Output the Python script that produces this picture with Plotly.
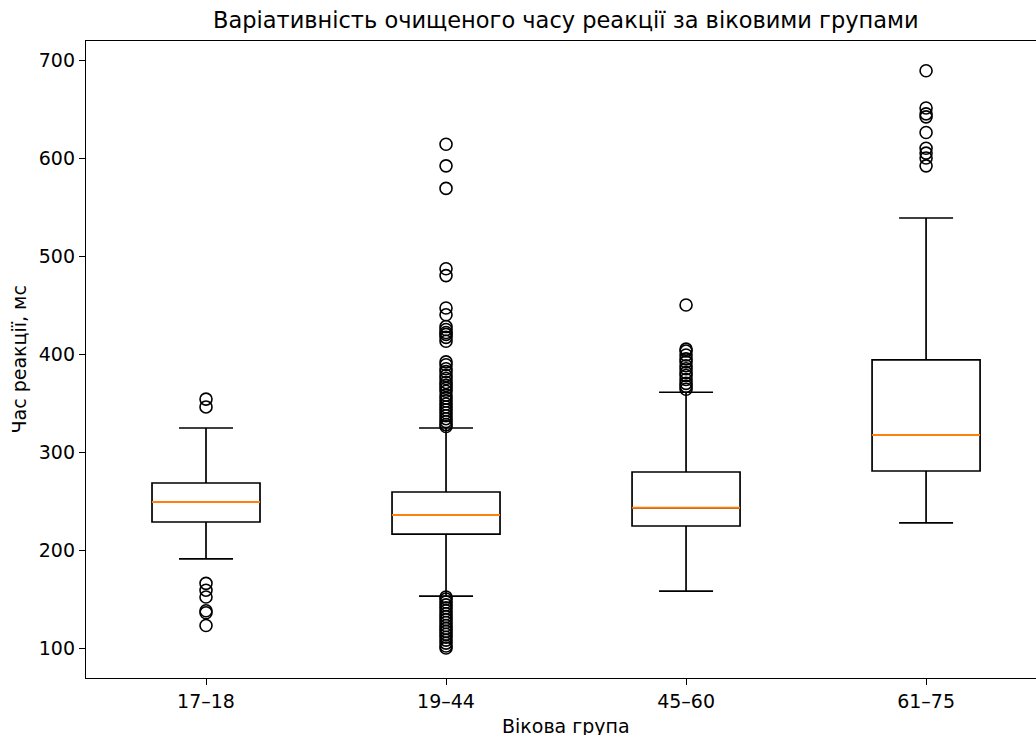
import plotly.graph_objects as go

# Age groups and their reaction-time summary statistics (ms)
groups = ["17–18", "19–44", "45–60", "61–75"]
positions = [1, 2, 3, 4]
q1 = [228.6, 216.3, 224.5, 280.6]
median = [249.0, 235.7, 243.0, 317.3]
q3 = [268.4, 259.2, 279.6, 394.0]
lower_whisker = [191.0, 153.0, 158.0, 227.6]
upper_whisker = [324.5, 324.5, 361.0, 538.8]

# Outliers per group
outliers_17_18 = [354, 346, 166, 159, 152, 138, 136, 123]
outliers_19_44 = [614, 592, 569, 487, 480, 447, 440, 428, 425, 422, 420, 417, 413,
                  392, 389, 385, 382, 378, 375, 371, 368, 365, 362, 358, 355, 352,
                  349, 346, 343, 340, 337, 334, 331, 328, 326,
                  152, 150, 147, 144, 141, 138, 135, 132, 129, 126, 123, 120, 117,
                  114, 111, 108, 105, 102, 100]
outliers_45_60 = [450, 405, 403, 399, 395, 392, 388, 385, 381, 378, 374, 370, 367, 364]
outliers_61_75 = [689, 651, 645, 642, 626, 610, 605, 600, 592]
outliers = [outliers_17_18, outliers_19_44, outliers_45_60, outliers_61_75]

y_ticks = [100, 200, 300, 400, 500, 600, 700]

BOX_WIDTH = 0.45
FONT = "DejaVu Sans"

fig = go.Figure()

fig.add_trace(go.Box(
    x=positions, q1=q1, median=median, q3=q3,
    lowerfence=lower_whisker, upperfence=upper_whisker,
    width=BOX_WIDTH, whiskerwidth=0.5, boxpoints=False,
    line=dict(color="black", width=1.7), fillcolor="white",
    showlegend=False, hoverinfo="skip",
))

# Orange median lines on top of the boxes
for pos, med in zip(positions, median):
    fig.add_trace(go.Scatter(
        x=[pos - BOX_WIDTH / 2, pos + BOX_WIDTH / 2], y=[med, med],
        mode="lines", line=dict(color="#ff7f0e", width=2),
        showlegend=False, hoverinfo="skip",
    ))

# Outlier markers
for pos, pts in zip(positions, outliers):
    fig.add_trace(go.Scatter(
        x=[pos] * len(pts), y=pts, mode="markers",
        marker=dict(symbol="circle-open", size=12, color="black",
                    line=dict(width=1.6, color="black")),
        showlegend=False, hoverinfo="skip",
    ))

fig.update_layout(
    width=1036, height=735,
    margin=dict(l=86, r=0, t=41, b=57),
    paper_bgcolor="white", plot_bgcolor="white",
    font=dict(family=FONT, size=19, color="black"),
    annotations=[
        dict(text="Варіативність очищеного часу реакції за віковими групами",
             xref="paper", yref="paper", x=0.505, y=1, yshift=6,
             xanchor="center", yanchor="bottom", showarrow=False,
             font=dict(family=FONT, size=22.5, color="black")),
        dict(text="Вікова група",
             xref="paper", yref="paper", x=0.505, y=0, yshift=-35,
             xanchor="center", yanchor="top", showarrow=False,
             font=dict(family=FONT, size=19, color="black")),
        dict(text="Час реакції, мс", textangle=-90,
             xref="paper", yref="paper", x=0, xshift=-68, y=0.5,
             xanchor="center", yanchor="middle", showarrow=False,
             font=dict(family=FONT, size=19, color="black")),
    ],
)

fig.update_xaxes(
    range=[0.5, 4.458], tickvals=positions, ticktext=groups,
    showgrid=False, zeroline=False,
    showline=True, linecolor="black", linewidth=1.3, mirror=True,
    ticks="outside", ticklen=6, tickwidth=1.3, tickcolor="black",
    tickfont=dict(family=FONT, size=19, color="black"),
)
fig.update_yaxes(
    range=[69.4, 719.4], tickvals=y_ticks,
    showgrid=False, zeroline=False,
    showline=True, linecolor="black", linewidth=1.3, mirror=False,
    ticks="outside", ticklen=6, tickwidth=1.3, tickcolor="black",
    tickfont=dict(family=FONT, size=19, color="black"),
)

fig.write_html("out.html")
